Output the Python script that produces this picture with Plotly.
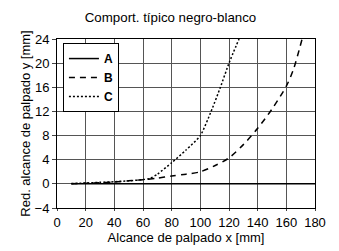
import plotly.graph_objects as go

title = "Comport. típico negro-blanco"
x_title = "Alcance de palpado x [mm]"
y_title = "Red. alcance de palpado y [mm]"

a_x = [10, 180]
a_y = [0, 0]

b_x = [10, 20, 30, 40, 50, 60, 70, 80, 90, 100, 110, 120, 130, 140, 150, 160, 165, 171]
b_y = [0, 0.1, 0.2, 0.3, 0.5, 0.7, 0.95, 1.3, 1.6, 2.0, 3.0, 4.3, 6.5, 9.2, 12.4, 16.2, 19.0, 24]

c_x = [10, 20, 30, 40, 50, 60, 65, 70, 80, 90, 100, 107.5, 114, 120, 127]
c_y = [0.05, 0.15, 0.25, 0.35, 0.5, 0.7, 0.9, 1.6, 3.5, 5.6, 8, 12, 16, 20, 24]

x_ticks = list(range(0, 181, 20))
y_ticks = list(range(-4, 25, 4))

font = "Liberation Sans, Arial, sans-serif"

fig = go.Figure()
fig.add_trace(go.Scatter(x=a_x, y=a_y, mode="lines", name="<b>A</b>",
                         line=dict(color="black", width=1.5, dash="solid")))
fig.add_trace(go.Scatter(x=b_x, y=b_y, mode="lines", name="<b>B</b>",
                         line=dict(color="black", width=1.5, dash="6px,5px",
                                   shape="spline", smoothing=0.8)))
fig.add_trace(go.Scatter(x=c_x, y=c_y, mode="lines", name="<b>C</b>",
                         line=dict(color="black", width=1.5, dash="2px,2px",
                                   shape="spline", smoothing=0.6)))

fig.update_layout(
    width=339, height=251,
    margin=dict(l=57, r=24, t=39, b=43, autoexpand=False),
    paper_bgcolor="white", plot_bgcolor="white",
    font=dict(family=font, size=13, color="black"),
    title=dict(text=title, x=0.503, xref="container", xanchor="center",
               y=0.93, yref="container", yanchor="middle",
               font=dict(size=13.3)),
    showlegend=True,
    legend=dict(x=0.023, y=0.976, xanchor="left", yanchor="top",
                bgcolor="white", bordercolor="black", borderwidth=1,
                font=dict(size=12), tracegroupgap=0, itemwidth=30),
    xaxis=dict(range=[0, 180], tickvals=x_ticks, showgrid=True, gridcolor="#555",
               gridwidth=1, zeroline=False, showline=True, linecolor="black",
               linewidth=1, mirror=True, ticks="outside", ticklen=2,
               automargin=False,
               title=dict(text=x_title, standoff=2, font=dict(size=13)),
               tickfont=dict(size=13)),
    yaxis=dict(range=[-4, 24], tickvals=y_ticks, showgrid=True, gridcolor="#555",
               gridwidth=1, zeroline=False, showline=True, linecolor="black",
               linewidth=1, mirror=True, ticks="outside", ticklen=4,
               automargin=False,
               title=dict(text=y_title, standoff=1, font=dict(size=13)),
               tickfont=dict(size=13)),
)

fig.write_html("out.html", config={"displayModeBar": False},
               post_script="document.body.style.margin='0';")
